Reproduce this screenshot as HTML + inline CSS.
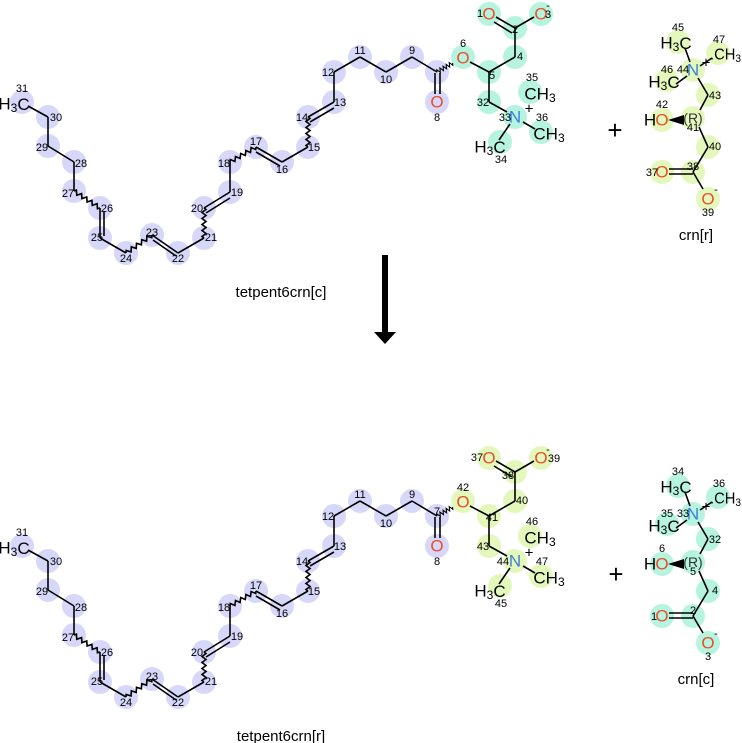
<!DOCTYPE html>
<html><head><meta charset="utf-8"><style>
html,body{margin:0;padding:0;background:#fff;}
svg{display:block;font-family:"Liberation Sans","DejaVu Sans",sans-serif;}
.n{font-size:11px;fill:#000;text-anchor:middle;dominant-baseline:central;}
.e{font-size:17px;text-anchor:middle;dominant-baseline:central;fill:#000;}
.O{fill:#e8502a;} .N{fill:#3a7fd8;} .R{fill:#333;font-size:14px;}
.b line,.b polyline,.b use{stroke:#000;stroke-width:1.6;fill:none;}
.lv circle{fill:#d7d7fa;} .tl circle{fill:#b6f4df;} .gr circle{fill:#e4f8bc;}
</style></head><body>
<svg width="742" height="743" viewBox="0 0 742 743" xmlns="http://www.w3.org/2000/svg">
<defs>
<path id="w" d="M0 0 l1.5 -2 l3 4 l3 -4 l3 4 l3 -4 l3 4 l3 -4 l3 4 l3 -4 l3 4 l1.5 -2"/>
<g id="chain">
 <g class="lv">
  <circle cx="22" cy="102" r="12"/><circle cx="48" cy="117" r="12"/><circle cx="48" cy="146" r="12"/>
  <circle cx="74" cy="162" r="12"/><circle cx="74" cy="191" r="12"/><circle cx="100" cy="208" r="12"/>
  <circle cx="100" cy="238" r="12"/><circle cx="126" cy="253" r="12"/><circle cx="152" cy="235" r="12"/>
  <circle cx="178" cy="253" r="12"/><circle cx="204" cy="238" r="12"/><circle cx="204" cy="208" r="12"/>
  <circle cx="230" cy="192" r="12"/><circle cx="230" cy="162" r="12"/><circle cx="256" cy="147" r="12"/>
  <circle cx="282" cy="162" r="12"/><circle cx="308" cy="147" r="12"/><circle cx="308" cy="117" r="12"/>
  <circle cx="334" cy="102" r="12"/><circle cx="334" cy="72" r="12"/><circle cx="360" cy="57" r="12"/>
  <circle cx="386" cy="72" r="12"/><circle cx="412" cy="57" r="12"/><circle cx="437" cy="72" r="12"/>
  <circle cx="437" cy="102" r="12"/>
 </g>
 <g class="b">
  <line x1="28" y1="106" x2="48" y2="117"/><line x1="48" y1="117" x2="48" y2="146"/>
  <line x1="48" y1="146" x2="74" y2="162"/><line x1="74" y1="162" x2="74" y2="191"/>
  <use href="#w" transform="translate(74,191) rotate(33.2) scale(1.03,1)"/>
  <line x1="100" y1="208" x2="100" y2="238"/><line x1="104" y1="211" x2="104" y2="236"/>
  <line x1="100" y1="238" x2="126" y2="253"/>
  <use href="#w" transform="translate(126,253) rotate(-34.7) scale(1.05,1)"/>
  <line x1="152" y1="235" x2="178" y2="253"/><line x1="153" y1="240" x2="176" y2="256"/>
  <line x1="178" y1="253" x2="204" y2="238"/>
  <use href="#w" transform="translate(204,238) rotate(-90)"/>
  <line x1="204" y1="208" x2="230" y2="192"/><line x1="206" y1="213" x2="230" y2="198"/>
  <line x1="230" y1="192" x2="230" y2="162"/>
  <use href="#w" transform="translate(230,162) rotate(-30)"/>
  <line x1="256" y1="147" x2="282" y2="162"/><line x1="256" y1="152" x2="280" y2="166"/>
  <line x1="282" y1="162" x2="308" y2="147"/>
  <use href="#w" transform="translate(308,147) rotate(-90)"/>
  <line x1="308" y1="117" x2="334" y2="102"/><line x1="310" y1="122" x2="334" y2="108"/>
  <line x1="334" y1="102" x2="334" y2="72"/><line x1="334" y1="72" x2="360" y2="57"/>
  <line x1="360" y1="57" x2="386" y2="72"/><line x1="386" y1="72" x2="412" y2="57"/>
  <line x1="412" y1="57" x2="437" y2="72"/>
  <line x1="435" y1="73" x2="435" y2="94"/><line x1="440" y1="73" x2="440" y2="94"/>
  <use href="#w" transform="translate(437,72) rotate(-30) scale(0.6,1)"/>
 </g>
 <text x="14" y="104" class="e" style="font-size:17px">H<tspan font-size="12" dy="4">3</tspan><tspan dy="-4">C</tspan></text>
 <text class="e O" x="437" y="102">O</text>
 <text class="n" x="22" y="89">31</text><text class="n" x="56" y="118">30</text><text class="n" x="42" y="148">29</text>
 <text class="n" x="81" y="164">28</text><text class="n" x="68" y="194">27</text><text class="n" x="107" y="209">26</text>
 <text class="n" x="97" y="238">25</text><text class="n" x="126" y="259">24</text><text class="n" x="152" y="233">23</text>
 <text class="n" x="178" y="259">22</text><text class="n" x="211" y="238">21</text><text class="n" x="197" y="209">20</text>
 <text class="n" x="237" y="193">19</text><text class="n" x="224" y="164">18</text><text class="n" x="256" y="142">17</text>
 <text class="n" x="282" y="170">16</text><text class="n" x="314" y="148">15</text><text class="n" x="302" y="118">14</text>
 <text class="n" x="340" y="103">13</text><text class="n" x="328" y="73">12</text><text class="n" x="360" y="51">11</text>
 <text class="n" x="386" y="80">10</text><text class="n" x="412" y="51">9</text><text class="n" x="437" y="118">8</text>
</g>
<g id="headb">
 <g class="b">
  <line x1="470" y1="62" x2="489" y2="72"/><line x1="489" y1="72" x2="515" y2="57"/>
  <line x1="515" y1="57" x2="515" y2="28"/><line x1="515" y1="28" x2="496" y2="17"/><line x1="512" y1="33" x2="494" y2="22"/>
  <line x1="515" y1="28" x2="534" y2="17"/><line x1="489" y1="72" x2="489" y2="102"/>
  <line x1="489" y1="102" x2="507" y2="112"/><line x1="523" y1="122" x2="535" y2="129"/>
  <line x1="510" y1="124" x2="499" y2="140"/>
 </g>
 <text class="e O" x="463" y="58">O</text><text class="e O" x="489" y="14">O</text><text class="e O" x="541" y="14">O</text>
 <text x="548" y="6" class="n">-</text>
 <text class="e N" x="515" y="117">N</text><text x="529" y="109" class="e" style="font-size:15px">+</text>
 <text x="540" y="94" class="e">CH<tspan font-size="12" dy="4">3</tspan></text>
 <text x="549" y="134" class="e">CH<tspan font-size="12" dy="4">3</tspan></text>
 <text x="490" y="147" class="e">H<tspan font-size="12" dy="4">3</tspan><tspan dy="-4">C</tspan></text>
</g>
<g id="crnb">
 <g class="b">
  <line x1="685" y1="48" x2="690" y2="62"/><line x1="700" y1="66" x2="712" y2="58"/>
  <line x1="687" y1="76" x2="676" y2="84"/><line x1="698" y1="78" x2="708" y2="95"/>
  <line x1="708" y1="95" x2="700" y2="110"/><line x1="699" y1="127" x2="708" y2="147"/>
  <line x1="708" y1="147" x2="693" y2="172"/>
  <line x1="693" y1="169" x2="669" y2="169"/><line x1="693" y1="174" x2="669" y2="174"/>
  <line x1="693" y1="172" x2="703" y2="189"/>
 </g>
 <polygon points="668,120 684,115 684,125" fill="#000"/>
 <text x="676" y="43" class="e">H<tspan font-size="12" dy="4">3</tspan><tspan dy="-4">C</tspan></text>
 <text class="e N" x="693" y="70">N</text><text x="706" y="63" class="e" style="font-size:15px">+</text>
 <text x="710" y="55" class="e" style="text-anchor:start;font-size:16px" textLength="31" lengthAdjust="spacingAndGlyphs">.CH<tspan font-size="11" dy="4">3</tspan></text>
 <text x="664" y="82" class="e">H<tspan font-size="12" dy="4">3</tspan><tspan dy="-4">C</tspan></text>
 <text class="e R" x="693" y="118">(R)</text>
 <text x="650" y="120" class="e">H</text><text class="e O" x="662" y="120">O</text>
 <text class="e O" x="662" y="172">O</text><text class="e O" x="708" y="199">O</text>
 <text x="716" y="190" class="n">-</text>
</g>
</defs>

<g class="tl">
 <circle cx="463" cy="57" r="12"/><circle cx="489" cy="72" r="12"/><circle cx="515" cy="57" r="12"/>
 <circle cx="515" cy="28" r="12"/><circle cx="489" cy="14" r="12"/><circle cx="541" cy="14" r="12"/>
 <circle cx="489" cy="102" r="12"/><circle cx="515" cy="117" r="12"/><circle cx="530" cy="92" r="12"/>
 <circle cx="541" cy="132" r="12"/><circle cx="500" cy="142" r="12"/>
</g>
<use href="#chain"/>
<use href="#headb"/>
<text class="n" x="463" y="44">6</text><text class="n" x="520" y="57">4</text><text class="n" x="492" y="76">5</text>
<text class="n" x="515" y="30">2</text><text class="n" x="480" y="14">1</text><text class="n" x="548" y="15">3</text>
<text class="n" x="483" y="103">32</text><text class="n" x="505" y="118">33</text><text class="n" x="532" y="78">35</text>
<text class="n" x="542" y="118">36</text><text class="n" x="501" y="160">34</text>

<g class="gr">
 <circle cx="678" cy="42" r="12"/><circle cx="693" cy="70" r="12"/><circle cx="718" cy="53" r="12"/>
 <circle cx="667" cy="80" r="12"/><circle cx="708" cy="95" r="12"/><circle cx="693" cy="118" r="12"/>
 <circle cx="662" cy="120" r="12"/><circle cx="708" cy="147" r="12"/><circle cx="693" cy="172" r="12"/>
 <circle cx="662" cy="172" r="12"/><circle cx="708" cy="199" r="12"/>
</g>
<use href="#crnb"/>
<text class="n" x="678" y="28">45</text><text class="n" x="683" y="70">44</text><text class="n" x="667" y="70">46</text>
<text class="n" x="719" y="40">47</text><text class="n" x="715" y="96">43</text><text class="n" x="693" y="128">41</text>
<text class="n" x="662" y="105">42</text><text class="n" x="715" y="147">40</text><text class="n" x="693" y="167">38</text>
<text class="n" x="652" y="173">37</text><text class="n" x="708" y="213">39</text>
<text x="696" y="240" style="font-size:15px" text-anchor="middle">crn[r]</text>
<text x="615" y="139" style="font-size:26px" text-anchor="middle">+</text>
<text x="281" y="297" style="font-size:15px" text-anchor="middle">tetpent6crn[c]</text>

<rect x="382" y="255" width="6" height="78" fill="#000"/>
<polygon points="374,332 396,332 385,344" fill="#000"/>

<g transform="translate(0,444)">
 <g class="gr">
  <circle cx="463" cy="57" r="12"/><circle cx="489" cy="72" r="12"/><circle cx="515" cy="57" r="12"/>
  <circle cx="515" cy="28" r="12"/><circle cx="489" cy="14" r="12"/><circle cx="541" cy="14" r="12"/>
  <circle cx="489" cy="102" r="12"/><circle cx="515" cy="117" r="12"/><circle cx="530" cy="92" r="12"/>
  <circle cx="541" cy="132" r="12"/><circle cx="500" cy="142" r="12"/>
 </g>
 <use href="#chain"/>
 <use href="#headb"/>
 <text class="n" x="437" y="68">7</text>
 <text class="n" x="463" y="44">42</text><text class="n" x="522" y="57">40</text><text class="n" x="492" y="74">41</text>
 <text class="n" x="508" y="32">38</text><text class="n" x="477" y="14">37</text><text class="n" x="554" y="15">39</text>
 <text class="n" x="483" y="103">43</text><text class="n" x="503" y="118">44</text><text class="n" x="532" y="78">46</text>
 <text class="n" x="542" y="118">47</text><text class="n" x="501" y="160">45</text>

 <g class="tl">
  <circle cx="678" cy="42" r="12"/><circle cx="693" cy="70" r="12"/><circle cx="718" cy="53" r="12"/>
  <circle cx="667" cy="80" r="12"/><circle cx="708" cy="95" r="12"/><circle cx="693" cy="118" r="12"/>
  <circle cx="662" cy="120" r="12"/><circle cx="708" cy="147" r="12"/><circle cx="693" cy="172" r="12"/>
  <circle cx="662" cy="172" r="12"/><circle cx="708" cy="199" r="12"/>
 </g>
 <use href="#crnb"/>
 <text class="n" x="678" y="28">34</text><text class="n" x="683" y="70">33</text><text class="n" x="667" y="70">35</text>
 <text class="n" x="719" y="40">36</text><text class="n" x="715" y="96">32</text><text class="n" x="693" y="128">5</text>
 <text class="n" x="662" y="105">6</text><text class="n" x="715" y="147">4</text><text class="n" x="693" y="167">2</text>
 <text class="n" x="654" y="173">1</text><text class="n" x="708" y="213">3</text>
 <text x="696" y="240" style="font-size:15px" text-anchor="middle">crn[c]</text>
 <text x="616" y="139" style="font-size:26px" text-anchor="middle">+</text>
 <text x="281" y="297" style="font-size:15px" text-anchor="middle">tetpent6crn[r]</text>
</g>
</svg>
</body></html>
